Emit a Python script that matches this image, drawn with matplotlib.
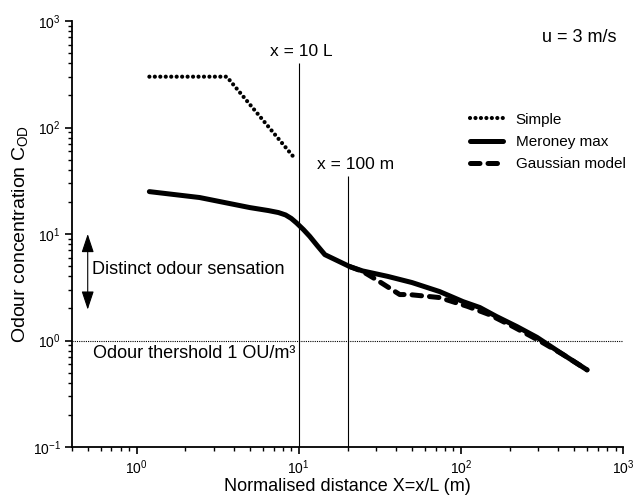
import matplotlib
matplotlib.use("Agg")
import matplotlib.pyplot as plt
from matplotlib.ticker import LogLocator, NullFormatter

plt.rcParams['font.family'] = ['Liberation Sans', 'DejaVu Sans']
plt.rcParams['mathtext.fontset'] = 'custom'
plt.rcParams['mathtext.rm'] = 'Liberation Sans'
plt.rcParams['mathtext.it'] = 'Liberation Sans:italic'
plt.rcParams['mathtext.bf'] = 'Liberation Sans:bold'

# ---- data ----
simple_x = [1.2, 3.6, 9.2]
simple_y = [300, 300, 54]

meroney_x = [1.2, 2.45, 5.0, 6.5, 7.5, 8.3, 9.0, 9.7, 10.7, 11.7, 13.0, 14.5, 20.6, 24.8,
             35.4, 50, 74, 103, 131, 166, 222, 295, 426, 600]
meroney_y = [25, 22, 17.7, 16.6, 15.9, 15.1, 14.0, 12.7, 11.0, 9.5, 7.8, 6.4, 4.95, 4.5,
             4.0, 3.5, 2.88, 2.32, 2.04, 1.68, 1.35, 1.07, 0.74, 0.53]

gauss_x = [20.6, 24.8, 30, 42, 48, 74, 110, 150, 210, 307, 426, 600]
gauss_y = [4.95, 4.45, 3.74, 2.7, 2.7, 2.53, 2.09, 1.75, 1.35, 0.99, 0.74, 0.53]

vline_x = [10, 20]
vline_top = [400, 34.7]
threshold = 1.0

fig = plt.figure(figsize=(6.33, 4.97), dpi=100)
ax = fig.add_axes([72/633, 1-447/497, (623-72)/633, (447-21)/497])

ax.set_xscale('log')
ax.set_yscale('log')
ax.set_xlim(0.4, 1000)
ax.set_ylim(0.1, 1000)

for s in ['top', 'right']:
    ax.spines[s].set_visible(False)
for s in ['left', 'bottom']:
    ax.spines[s].set_linewidth(1.3)

# reference lines
for vx, vt in zip(vline_x, vline_top):
    ax.plot([vx, vx], [0.1, vt], color='k', lw=0.8, solid_capstyle='butt')
ax.axhline(threshold, color='k', lw=0.8, ls=(0, (1, 1)))

# series
ax.plot(simple_x, simple_y, color='k', lw=3.0, ls=(0, (0.01, 1.3)),
        dash_capstyle='round', label='Simple')
ax.plot(meroney_x, meroney_y, color='k', lw=3.6, solid_capstyle='round',
        solid_joinstyle='round', label='Meroney max')
ax.plot(gauss_x, gauss_y, color='k', lw=3.6, ls=(0, (1.9, 1.6)),
        dash_capstyle='round', label='Gaussian model')

# ticks
ax.xaxis.set_major_locator(LogLocator(base=10, numticks=10))
ax.xaxis.set_minor_locator(LogLocator(base=10, subs=range(2, 10), numticks=20))
ax.yaxis.set_major_locator(LogLocator(base=10, numticks=10))
ax.yaxis.set_minor_locator(LogLocator(base=10, subs=range(2, 10), numticks=20))
ax.xaxis.set_minor_formatter(NullFormatter())
ax.yaxis.set_minor_formatter(NullFormatter())
ax.tick_params(which='major', direction='out', length=5, width=1.2, labelsize=10, pad=3)
ax.tick_params(which='minor', direction='out', length=3, width=1.0)

ax.set_xlabel('Normalised distance X=x/L (m)', fontsize=13, labelpad=1)
ax.set_ylabel('Odour concentration C$_{\\mathrm{OD}}$', fontsize=14, labelpad=2)

# annotations
ax.text(10.4, 517, 'x = 10 L', ha='center', va='center', fontsize=12.5)
ax.text(22.5, 45, 'x = 100 m', ha='center', va='center', fontsize=12.5)
ax.text(906, 700, 'u = 3 m/s', ha='right', va='center', fontsize=13)
ax.text(0.535, 4.64, 'Distinct odour sensation', ha='left', va='center', fontsize=13)
ax.text(0.54, 0.755, 'Odour thershold 1 OU/m³', ha='left', va='center', fontsize=13)
ax.annotate('', xy=(0.5, 10), xytext=(0.5, 1.95),
            arrowprops=dict(arrowstyle='<|-|>,head_length=0.6,head_width=0.2',
                            color='k', lw=0.8, mutation_scale=19,
                            shrinkA=0, shrinkB=0))

leg = ax.legend(loc='upper left', bbox_to_anchor=(0.722, 0.785), frameon=False,
                fontsize=11, handlelength=2.2, handletextpad=0.8,
                labelspacing=0.55, borderpad=0, borderaxespad=0)

fig.savefig('out.png', dpi=100)
